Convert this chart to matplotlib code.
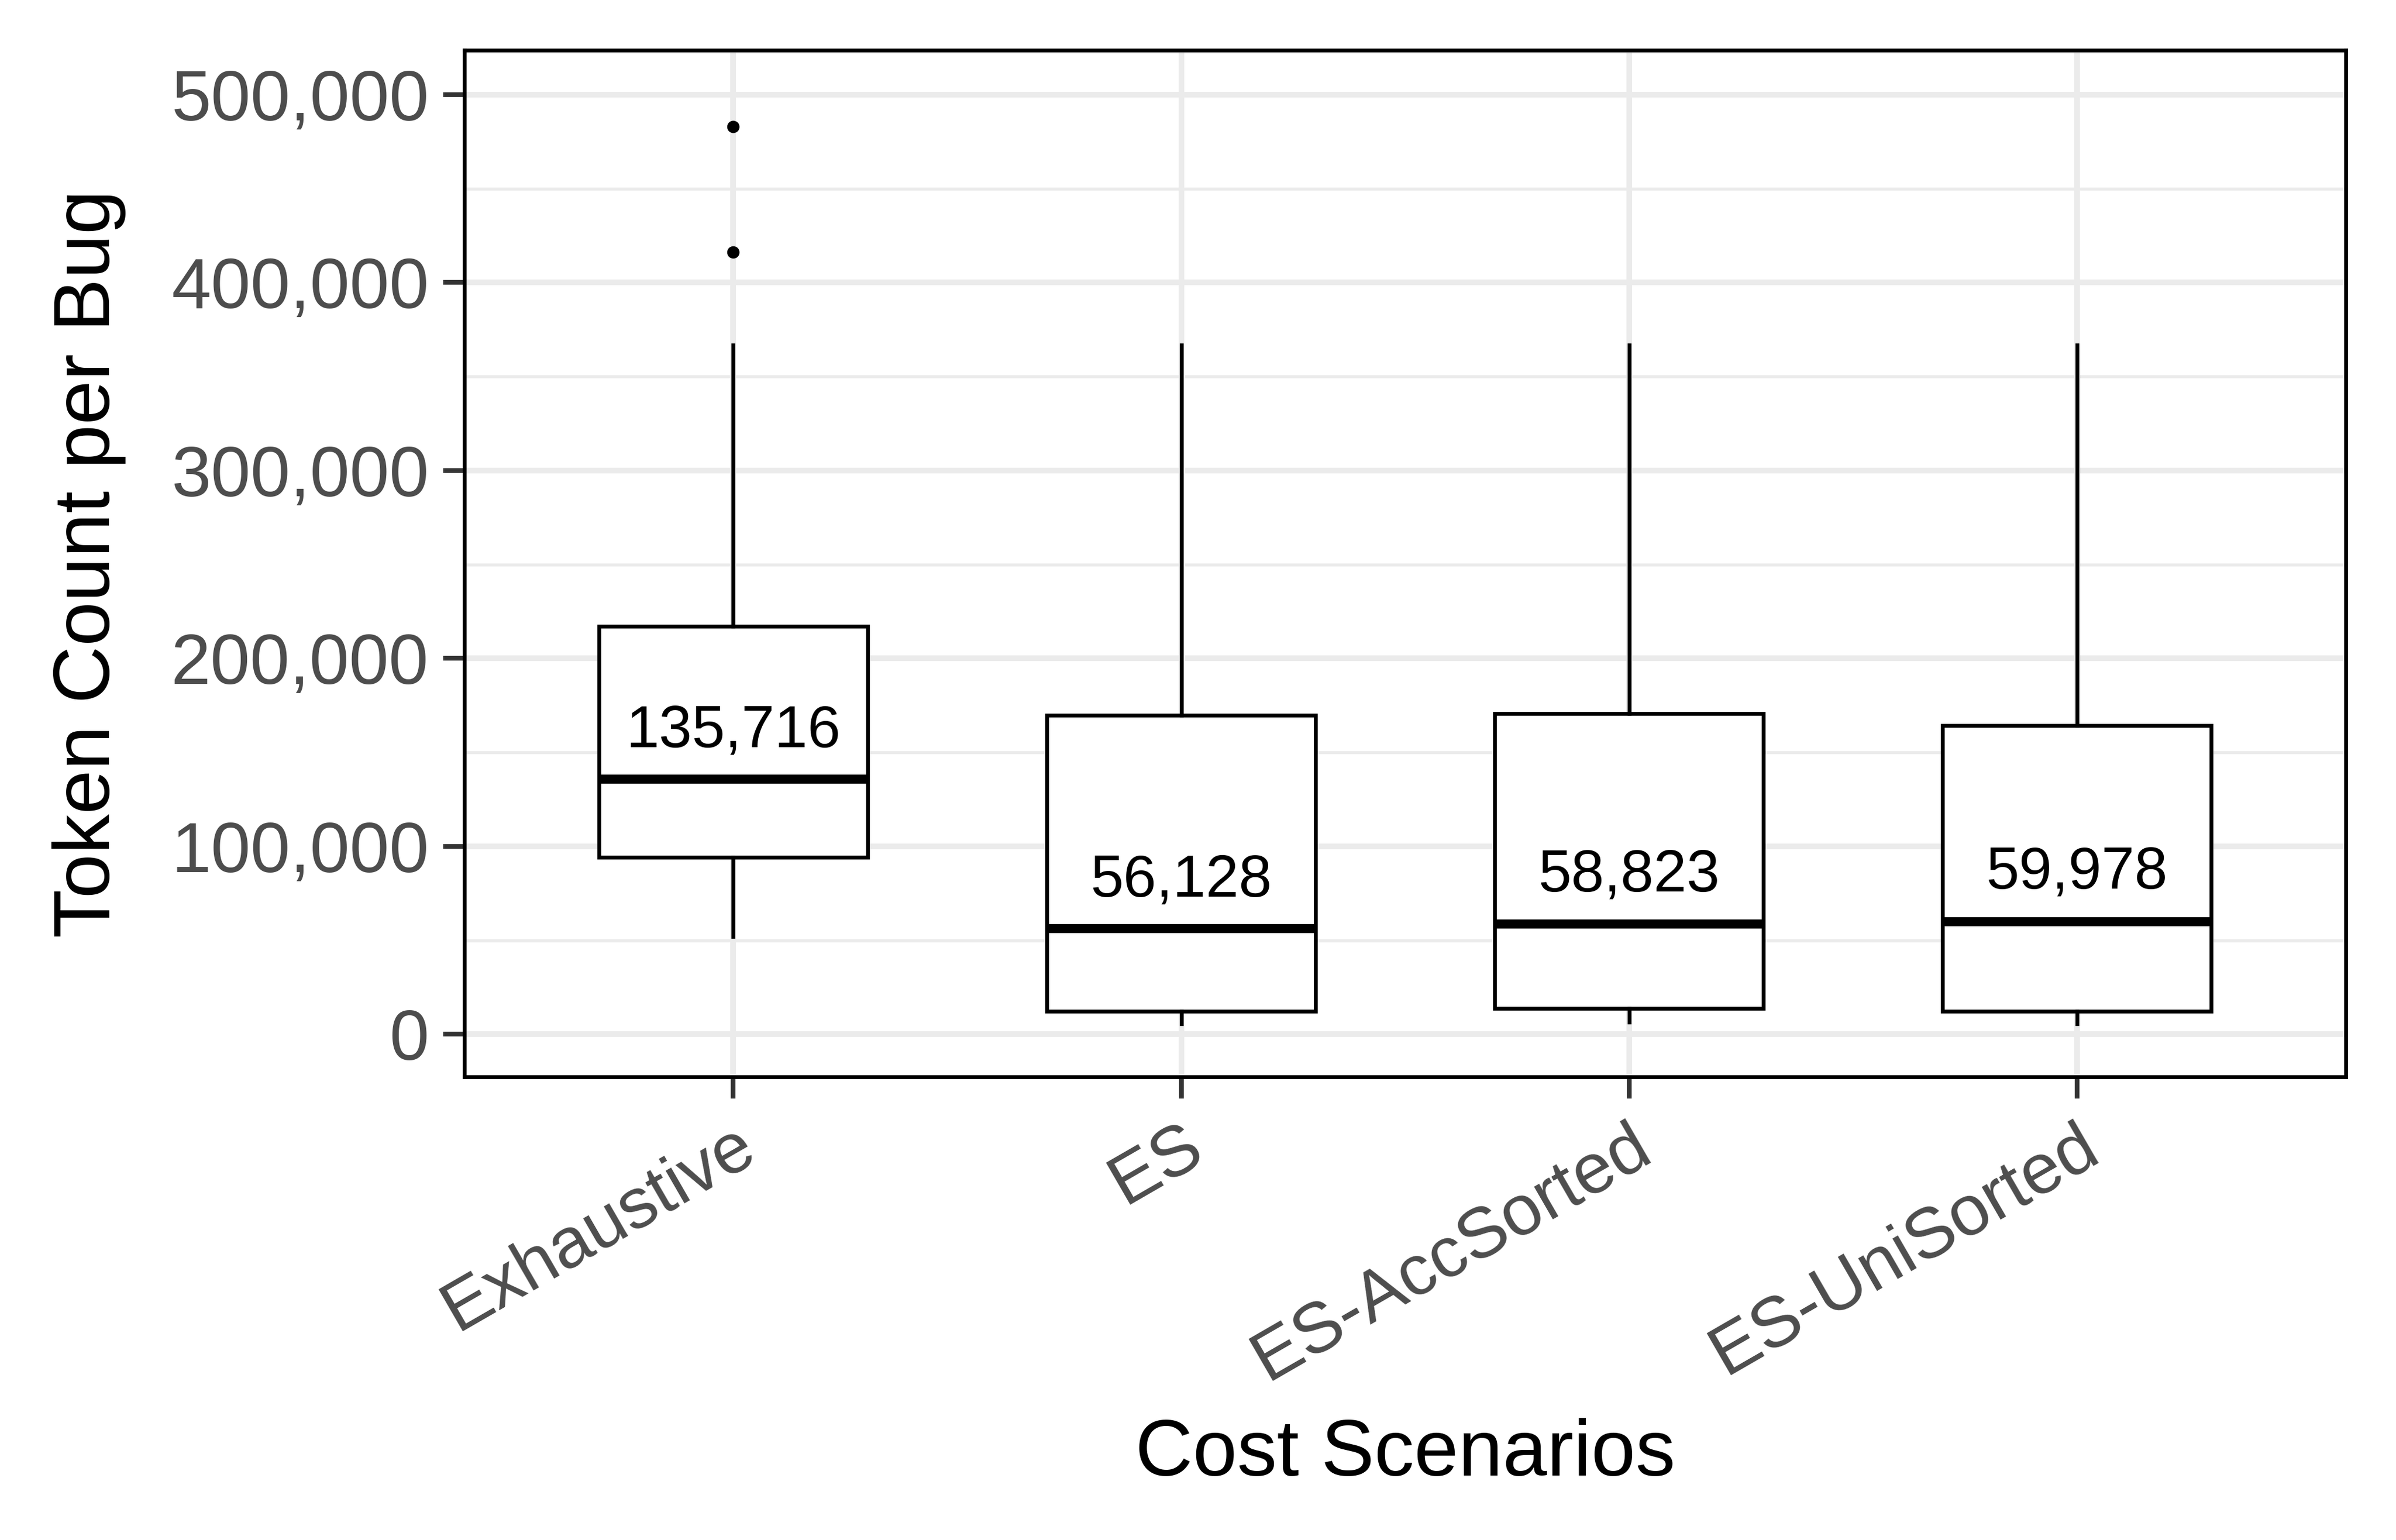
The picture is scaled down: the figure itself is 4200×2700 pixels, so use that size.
import matplotlib.pyplot as plt
import matplotlib.ticker as ticker
import numpy as np

plt.rcParams['font.family'] = ['Liberation Sans', 'DejaVu Sans']

# box statistics
scenarios = ['Exhaustive', 'ES', 'ES-AccSorted', 'ES-UniSorted']
medians = [135716, 56128, 58823, 59978]
q1 = [94300, 12200, 13800, 12200]
q3 = [217100, 169900, 170700, 164200]
whislo = [52000, 5700, 6500, 5700]
whishi = [366700, 366700, 366700, 366700]
outliers = [[482900, 416300], [], [], []]

stats = []
for i, name in enumerate(scenarios):
    stats.append(dict(label=name, med=medians[i], q1=q1[i], q3=q3[i],
                      whislo=whislo[i], whishi=whishi[i], fliers=outliers[i]))

fig = plt.figure(figsize=(14, 9), dpi=300)
ax = fig.add_axes([0.1939, 0.3006, 0.7851, 0.6667])

pos = np.arange(1, len(scenarios) + 1)

# grid like theme_bw
ax.set_axisbelow(True)
ax.yaxis.set_major_locator(ticker.MultipleLocator(100000))
ax.yaxis.set_minor_locator(ticker.MultipleLocator(50000))
ax.grid(which='major', axis='both', color='#EBEBEB', lw=2.4)
ax.grid(which='minor', axis='y', color='#EBEBEB', lw=1.3)

ax.bxp(stats, positions=pos, widths=0.6, showcaps=False, patch_artist=True,
       boxprops=dict(facecolor='white', edgecolor='black', lw=1.6),
       whiskerprops=dict(color='black', lw=1.6),
       medianprops=dict(color='black', lw=3.8, solid_capstyle='butt'),
       flierprops=dict(marker='o', markersize=4.2, markerfacecolor='black',
                       markeredgecolor='black', linestyle='none'))

for x, m in zip(pos, medians):
    ax.annotate(f'{m:,}', xy=(x, m), xytext=(0, 20), textcoords='offset points',
                ha='center', va='center', fontsize=25, color='black')

ax.set_xlim(0.4, 4.6)
ax.set_ylim(-22764, 523577)
ax.set_xticks(pos)
ax.set_xticklabels(scenarios, rotation=30, ha='right', va='top', rotation_mode='anchor')
ax.yaxis.set_major_formatter(ticker.FuncFormatter(lambda v, p: f'{int(v):,}'))

ax.tick_params(axis='both', which='major', length=9, width=2, color='#333333',
               labelsize=30, labelcolor='#4D4D4D', pad=6)
ax.tick_params(axis='y', which='minor', length=0)

for s in ax.spines.values():
    s.set_color('black')
    s.set_linewidth(1.6)

ax.set_xlabel('Cost Scenarios', fontsize=33.5, color='black')
ax.set_ylabel('Token Count per Bug', fontsize=33.5, color='black')
ax.yaxis.set_label_coords(-0.180, 0.5)
ax.xaxis.set_label_coords(0.5, -0.332)

fig.savefig('out.png', dpi=300)
